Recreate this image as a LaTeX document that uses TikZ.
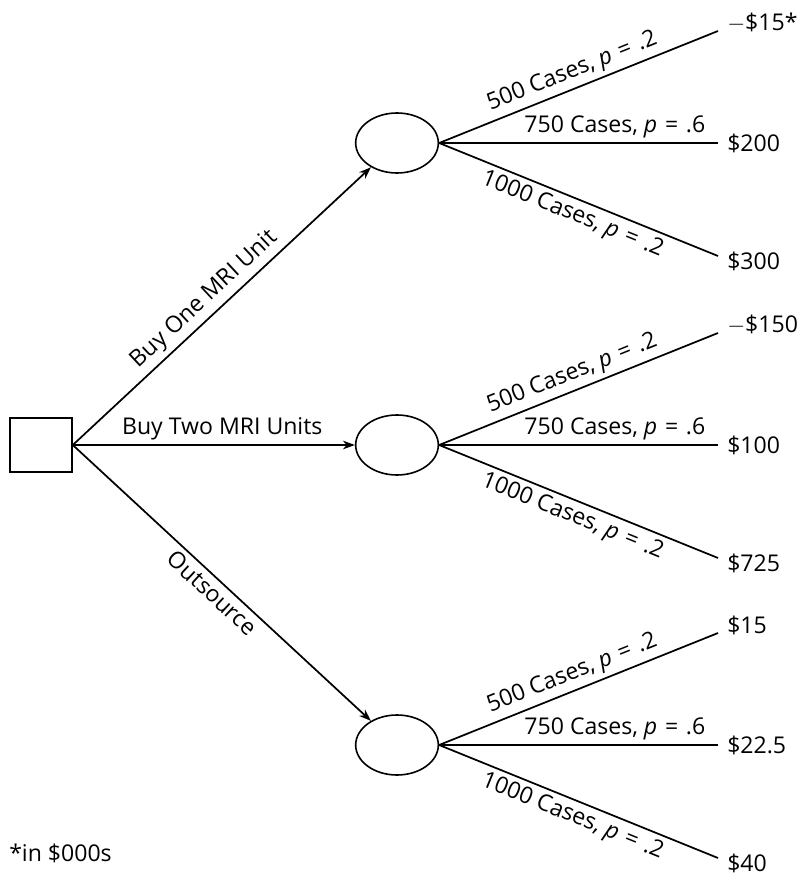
\documentclass[tikz,border=0pt]{standalone}
\usepackage{fontspec}
\setmainfont{Open Sans}
\usetikzlibrary{arrows.meta,shapes.geometric}

\tikzset{
  decision/.style={draw, line width=1.2pt, minimum width=46.5pt, minimum height=40.5pt, inner sep=0pt},
  chance/.style={draw, ellipse, line width=1.2pt, minimum width=62pt, minimum height=45pt, inner sep=0pt},
  branch/.style={line width=1.3pt},
  act/.style={branch, -{Stealth[length=9pt,width=6.5pt]}},
  payoff/.style={anchor=west, inner sep=0pt},
}
\newcommand{\prob}[1]{\textit{p}\,\,=\,\,#1}

\begin{document}
\begin{tikzpicture}[x=0.75pt, y=-0.75pt, font=\fontsize{17.3}{20}\selectfont]
    \useasboundingbox (0,0) rectangle (801,877);

    % -------------------------------
    % decision and chance nodes
    % -------------------------------
    \node[decision] (dec) at (41,445) {};
    \node[chance] (c1) at (397,143) {};
    \node[chance] (c2) at (397,445) {};
    \node[chance] (c3) at (397,745) {};

    % alternatives
    \draw[act] (dec.east) -- node[sloped, above, pos=0.48] {Buy One MRI Unit} (c1);
    \draw[act] (dec.east) -- node[above, pos=0.53] {Buy Two MRI Units} (c2);
    \draw[act] (dec.east) -- node[sloped, below, pos=0.5] {Outsource} (c3);

    % -------------------------------
    % outcomes of each chance node
    % -------------------------------
    \foreach \c/\pa/\pb/\pc in {c1/{$-$\$15*}/\$200/\$300,
                                c2/{$-$\$150}/\$100/\$725,
                                c3/\$15/\$22.5/\$40} {
        \coordinate (\c-lo) at ([shift={(321,-112)}]\c.center);
        \coordinate (\c-mid) at ([shift={(321,0)}]\c.center);
        \coordinate (\c-hi) at ([shift={(321,113)}]\c.center);

        \draw[branch] (\c.east) -- node[sloped, above] {500 Cases, \prob{.2}} (\c-lo);
        \draw[branch] (\c.east) -- node[above, pos=0.63] {750 Cases, \prob{.6}} (\c-mid);
        \draw[branch] (\c.east) -- node[sloped, below] {1000 Cases, \prob{.2}} (\c-hi);

        \node[payoff] (\c-pa) at ([shift={(9,-8)}]\c-lo) {\pa};
        \node[payoff] (\c-pb) at ([shift={(9,0)}]\c-mid) {\pb};
        \node[payoff] (\c-pc) at ([shift={(9,5)}]\c-hi) {\pc};
    }

    \node[anchor=west, inner sep=0pt] (note) at (9,853) {*in \$000s};

\end{tikzpicture}
\end{document}
